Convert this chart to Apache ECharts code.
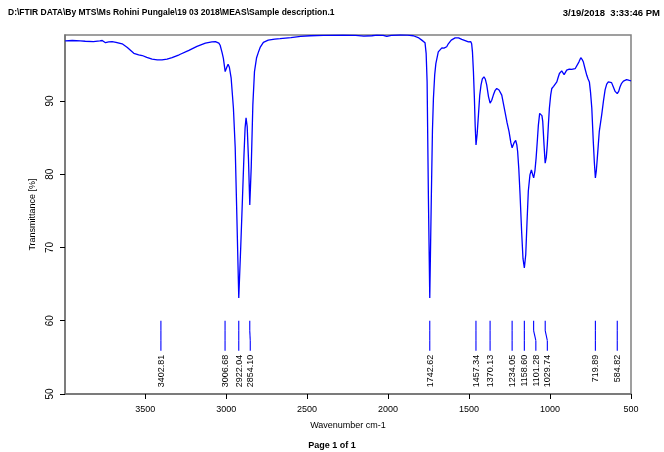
<!DOCTYPE html>
<html>
<head>
<meta charset="utf-8">
<script src="https://cdn.jsdelivr.net/npm/echarts@6/dist/echarts.min.js"></script>
<style>html,body{margin:0;padding:0;background:#fff}#c{width:664px;height:452px}</style>
</head>
<body>
<div id="c"></div>
<script>
// Wavenumber (cm-1) and transmittance (%)
const wavenumbers = [3994,3950,3900,3870,3820,3780,3765,3745,3725,3704,3680,3642,3610,3570,3540,3518,3490,3457,3425,3396,3365,3334,3290,3230,3180,3128,3088,3066,3045,3037,3025,3017,3006,2996,2988,2980,2969,2955,2944,2933,2922,2910,2899,2890,2883,2877,2870,2862,2854,2845,2835,2825,2812,2800,2790,2770,2740,2700,2667,2600,2540,2481,2400,2278,2200,2150,2100,2070,2030,2008,1980,1926,1880,1844,1810,1792,1772,1765,1759,1751,1742.6,1733,1726,1720,1712,1705,1690,1668,1655,1648,1638,1628,1610,1586,1565,1545,1520,1504,1490,1484,1479,1473,1467,1462,1457,1450,1442,1434,1426,1418,1408,1400,1391,1380,1370,1360,1350,1340,1329,1315,1298,1278,1265,1253,1242,1234,1222,1212,1205,1200,1193,1185,1175,1167,1158.6,1150,1142,1134,1124,1115,1108,1101,1093,1086,1078,1072,1064,1057,1050,1045,1037,1030,1023,1017,1010,1004,996,989,978,969,958,950,942,928,920,913,905,897,881,866,856,845,835,822,810,800,794,785,773,765,757,750,742,733,726,720,714,708,702,696,681,670,660,650,640,630,620,609,598,585,576,568,558,547,527,510,500];
const transmittance = [98.2,98.25,98.2,98.15,98.1,98.2,98.25,97.95,98.05,98.1,98.0,97.8,97.3,96.5,96.3,96.2,95.95,95.7,95.6,95.6,95.7,95.9,96.3,96.9,97.45,97.9,98.06,98.1,97.9,97.6,96.6,95.8,94.0,94.6,95.0,94.6,93.1,89.0,83.6,73.5,63.1,70.0,76.8,82.5,86.3,87.7,86.5,82.0,75.8,81.0,89.5,94.0,95.9,96.7,97.3,98.0,98.3,98.45,98.5,98.65,98.8,98.9,98.95,98.97,98.95,98.85,98.9,98.97,98.95,98.8,98.95,99.0,98.98,98.9,98.6,98.3,97.95,96.5,92.6,76.8,63.1,76.8,86,90.35,93.6,95.1,96.7,97.25,97.2,97.05,97.4,97.8,98.3,98.6,98.6,98.4,98.2,98.06,98.1,97.8,96.7,94,90.35,86.5,84.0,85.5,88.1,90.8,92.2,93.0,93.3,93.0,92.2,90.6,89.7,90.1,90.8,91.4,91.7,91.5,90.8,88.5,87.0,85.8,84.3,83.6,84.3,84.6,84.0,83.1,80.8,77.2,72.0,68.5,67.2,69.0,73.5,77.7,79.9,80.6,80.0,79.5,80.5,82.2,84.7,86.7,88.3,88.5,88.0,87.2,84.0,81.5,82.3,84.0,86.8,89.0,90.8,91.7,92.0,92.2,92.6,93.2,93.75,94.1,93.9,93.6,93.9,94.2,94.35,94.3,94.25,94.4,94.66,95.3,95.9,95.6,95.3,94.5,93.5,93.0,92.6,91.2,89.0,84.5,81.5,79.5,80.5,82.2,84.0,85.8,88.1,90.0,91.5,92.3,92.6,92.75,92.5,91.9,91.3,91.0,91.3,91.9,92.4,92.7,92.9,92.8,92.75];
// Picked peaks
const peaks = [3402.81,3006.68,2922.04,2854.10,1742.62,1457.34,1370.13,1234.05,1158.60,1101.28,1029.74,719.89,584.82];
const peakLabels = ["3402.81","3006.68","2922.04","2854.10","1742.62","1457.34","1370.13","1234.05","1158.60","1101.28","1029.74","719.89","584.82"];
// Axis ticks
const xTicks = [500,1000,1500,2000,2500,3000,3500];
const yTicks = [50,60,70,80,90];
const headerLeft = "D:\\FTIR DATA\\By MTS\\Ms Rohini Pungale\\19 03 2018\\MEAS\\Sample description.1";
const headerRight = "3/19/2018  3:33:46 PM";
const footer = "Page 1 of 1";

const FONT = "'Liberation Sans', Arial, sans-serif";
const BLUE = '#0000ff';
const chart = echarts.init(document.getElementById('c'), null, {renderer: 'canvas'});
const spectrum = wavenumbers.map((w, i) => [w, transmittance[i]]);
const PEAK_TOP = 60;

function peakRender(params, api) {
  const i = params.dataIndex;
  const xs = peaks.map(p => api.coord([p, PEAK_TOP])[0]);
  const shifted = xs.slice();
  const minGap = 11.5;
  for (let k = 1; k < shifted.length; k++) {
    if (shifted[k] - shifted[k - 1] < minGap) shifted[k] = shifted[k - 1] + minGap;
  }
  const top = api.coord([peaks[i], PEAK_TOP]);
  const x0 = top[0], y0 = top[1];
  const x1 = shifted[i];
  const seg = (a, b, c, d) => ({type: 'line', shape: {x1: a, y1: b, x2: c, y2: d},
    style: {stroke: BLUE, lineWidth: 1.1}, silent: true});
  return {
    type: 'group',
    children: [
      seg(x0, y0, x0, y0 + 10),
      seg(x0, y0 + 10, x1, y0 + 20),
      seg(x1, y0 + 20, x1, y0 + 30),
      {type: 'text', x: x1 + 0.5, y: y0 + 34, rotation: Math.PI / 2, silent: true,
        style: {text: peakLabels[i], font: '9px ' + FONT, fill: '#000', align: 'right', verticalAlign: 'middle'}}
    ]
  };
}

chart.setOption({
  animation: false,
  backgroundColor: '#fff',
  grid: {left: 65, right: 33, top: 35, bottom: 58, show: true, borderColor: '#808080', borderWidth: 1.5, backgroundColor: 'transparent'},
  xAxis: {
    type: 'value', inverse: true, min: 500, max: 3995, interval: 500,
    axisLine: {show: true, onZero: false, lineStyle: {color: '#707070', width: 1.5}},
    axisTick: {show: true, inside: false, length: 5, customValues: xTicks, lineStyle: {color: '#000'}},
    axisLabel: {customValues: xTicks, fontSize: 9, fontFamily: FONT, color: '#000', margin: 11, formatter: v => String(v)},
    splitLine: {show: false},
    name: 'Wavenumber cm-1', nameLocation: 'middle', nameGap: 27,
    nameTextStyle: {fontSize: 9, fontFamily: FONT, color: '#000'}
  },
  yAxis: {
    type: 'value', min: 50, max: 99, interval: 10,
    axisLine: {show: true, onZero: false, lineStyle: {color: '#707070', width: 1.5}},
    axisTick: {show: true, inside: false, length: 5, customValues: yTicks, lineStyle: {color: '#000'}},
    axisLabel: {customValues: yTicks, fontSize: 10, fontFamily: FONT, color: '#000', rotate: 90, margin: 10, formatter: v => String(v)},
    splitLine: {show: false},
    name: 'Transmittance [%]', nameLocation: 'middle', nameGap: 27, nameRotate: 90,
    nameTextStyle: {fontSize: 9, fontFamily: FONT, color: '#000'}
  },
  series: [
    {type: 'line', data: spectrum, showSymbol: false, symbol: 'none', lineStyle: {color: BLUE, width: 1.3}, clip: true, z: 3},
    {type: 'custom', data: peaks.map(p => [p, PEAK_TOP]), renderItem: peakRender, itemStyle: {color: BLUE}, z: 4, clip: false}
  ],
  graphic: [
    {type: 'text', left: 8, top: 8, style: {text: headerLeft, font: 'bold 8.5px ' + FONT, fill: '#000'}},
    {type: 'text', right: 4, top: 8, style: {text: headerRight, font: 'bold 9.5px ' + FONT, fill: '#000'}},
    {type: 'text', left: 'center', top: 441, style: {text: footer, font: 'bold 9px ' + FONT, fill: '#000'}}
  ]
});
</script>
</body>
</html>
